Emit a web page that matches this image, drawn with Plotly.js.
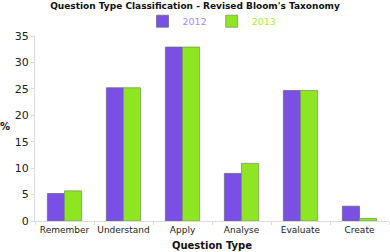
<!DOCTYPE html>
<html><head><meta charset="utf-8">
<script src="https://cdn.plot.ly/plotly-3.0.1.min.js"></script>
<style>html,body{margin:0;padding:0;background:#fff}#c{width:390px;height:252px}</style>
</head><body><div id="c"></div>
<script>
const categories = ["Remember","Understand","Apply","Analyse","Evaluate","Create"];
const values2012 = [5.2, 25.2, 32.9, 9.0, 24.7, 2.8];
const values2013 = [5.7, 25.2, 32.9, 10.9, 24.7, 0.5];
const yTicks = [0,5,10,15,20,25,30,35];

const font = "DejaVu Sans, Verdana, sans-serif";
const traces = [
  {type:"bar", x:categories, y:values2012, name:'<span style="color:#a98cf0">2012</span>',
   marker:{color:"#7a4fe6", line:{color:"#6a6a8a", width:0.8}}},
  {type:"bar", x:categories, y:values2013, name:'<span style="color:#a6ea3e">2013</span>',
   marker:{color:"#8ee622", line:{color:"#7a9a5a", width:0.8}}}
];
const layout = {
  width:390, height:252,
  margin:{l:35, r:1, t:36, b:31},
  paper_bgcolor:"#fff", plot_bgcolor:"#fff",
  font:{family:font, size:10, color:"#222"},
  barmode:"group", bargap:0.42, bargroupgap:0,
  title:{text:"<b>Question Type Classification - Revised Bloom's Taxonomy</b>", font:{size:9, family:font, color:"#111"}, x:0.5, xanchor:"center", y:0.99, yanchor:"top"},
  showlegend:true,
  legend:{orientation:"h", x:0.5, xanchor:"center", y:1.08, yanchor:"middle", font:{size:9.5}, itemwidth:30, tracegroupgap:0, bgcolor:"rgba(0,0,0,0)"},
  xaxis:{type:"category", showgrid:false, showline:true, linecolor:"#d8dcdc", linewidth:1,
    ticks:"outside", tickson:"boundaries", ticklen:3, tickcolor:"#d8dcdc",
    tickangle:0, automargin:false,
    tickfont:{size:9, color:"#222"},
    title:{text:"<b>Question Type</b>", font:{size:10, color:"#111"}, standoff:8}},
  yaxis:{range:[0,35], tickvals:yTicks, showgrid:false, showline:true, linecolor:"#d8dcdc", linewidth:1,
    ticks:"outside", ticklen:3, tickcolor:"#d8dcdc", zeroline:false, automargin:false,
    tickfont:{size:11, color:"#222"}},
  annotations:[{text:"<b>%</b>", xref:"paper", yref:"paper", x:-0.085, y:0.51, xanchor:"center", yanchor:"middle", showarrow:false, font:{size:10, color:"#111"}}]
};
Plotly.newPlot("c", traces, layout, {displayModeBar:false, staticPlot:true});
</script></body></html>
